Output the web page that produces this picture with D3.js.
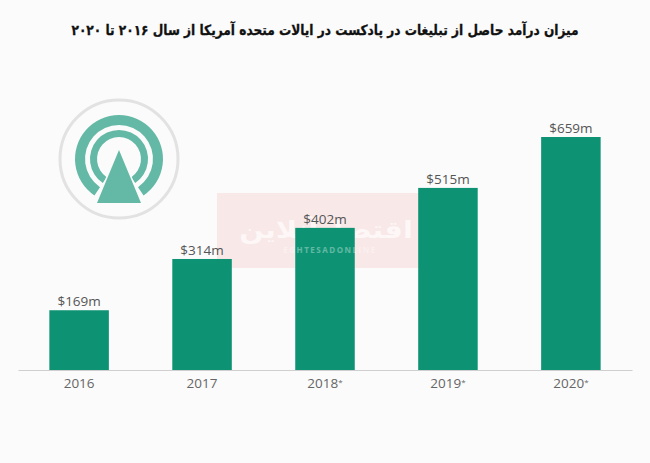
<!DOCTYPE html>
<html>
<head>
<meta charset="utf-8">
<script src="https://cdn.jsdelivr.net/npm/d3@7/dist/d3.min.js"></script>
<style>
  html, body { margin: 0; padding: 0; background: #fbfbfb; }
  svg { display: block; }
  text { font-family: "Open Sans", "Noto Sans", sans-serif; }
</style>
</head>
<body>
<svg id="chart"></svg>
<script>
const years = ['2016', '2017', '2018*', '2019*', '2020*'];
const revenue = [169, 314, 402, 515, 659];
const titleText = 'میزان درآمد حاصل از تبلیغات در پادکست در ایالات متحده آمریکا از سال ۲۰۱۶ تا ۲۰۲۰';
const watermarkFa = 'اقتصادآنلاین';
const watermarkEn = 'EGHTESADONLINE';

const width = 650;
const height = 463;
const baseline = 370;

const svg = d3.select('#chart').attr('width', width).attr('height', height);

svg.append('rect').attr('width', width).attr('height', height).attr('fill', '#fbfbfb');

// watermark sits behind the bars
const mark = svg.append('g');
mark.append('rect')
  .attr('x', 217).attr('y', 193)
  .attr('width', 217).attr('height', 75)
  .attr('fill', '#f9e8e8');
mark.append('text')
  .attr('transform', 'translate(326,238) scale(1.2,1)')
  .attr('text-anchor', 'middle')
  .attr('direction', 'rtl')
  .attr('font-size', 24)
  .attr('font-weight', 'bold')
  .style('font-family', '"DejaVu Sans"')
  .attr('fill', '#fdf7f7')
  .text(watermarkFa);

const x = d3.scaleBand()
  .domain(years)
  .range([18, 632])
  .paddingInner(0.516)
  .paddingOuter(0.255);

const y = d3.scaleLinear()
  .domain([0, 659])
  .range([baseline, 137]);

svg.append('g')
  .selectAll('rect')
  .data(revenue)
  .join('rect')
  .attr('x', (d, i) => x(years[i]))
  .attr('y', (d) => y(d))
  .attr('width', x.bandwidth())
  .attr('height', (d) => baseline - y(d))
  .attr('fill', '#0d9373');

// latin part of the watermark shows faintly through the bar
svg.append('text')
  .attr('x', 330).attr('y', 253)
  .attr('text-anchor', 'middle')
  .attr('font-size', 8)
  .attr('font-weight', 'bold')
  .attr('letter-spacing', 1.5)
  .attr('fill', '#fff')
  .attr('opacity', 0.35)
  .text(watermarkEn);

svg.append('g')
  .selectAll('text')
  .data(revenue)
  .join('text')
  .attr('x', (d, i) => x(years[i]) + x.bandwidth() / 2)
  .attr('y', (d) => y(d) - 4)
  .attr('text-anchor', 'middle')
  .attr('font-size', 13.5)
  .attr('fill', '#555')
  .text((d) => '$' + d + 'm');

const axis = svg.append('g')
  .attr('transform', `translate(0,${baseline})`)
  .call(d3.axisBottom(x).tickSize(0).tickPadding(8));
axis.select('.domain').attr('stroke', '#cfcfcf');
axis.selectAll('text')
  .attr('font-size', 13.5)
  .style('font-family', '"Open Sans", sans-serif')
  .attr('fill', '#666')
  .each(function (d) {
    // the star is a small raised mark in the original
    const label = d3.select(this);
    if (d.endsWith('*')) {
      label.text(d.slice(0, -1));
      label.append('tspan')
        .attr('font-size', 8)
        .attr('dy', -3)
        .text('*');
    }
  });

svg.append('text')
  .attr('transform', 'translate(325,35) scale(0.87,1)')
  .attr('text-anchor', 'middle')
  .attr('direction', 'rtl')
  .attr('font-size', 14)
  .attr('font-weight', 'bold')
  .style('font-family', '"DejaVu Sans"')
  .attr('fill', '#111')
  .attr('stroke', '#111')
  .attr('stroke-width', 0.3)
  .text(titleText);

// podcast icon
const icon = svg.append('g').attr('transform', 'translate(119,159)');
icon.append('circle')
  .attr('r', 59)
  .attr('fill', '#fbfbfb')
  .attr('stroke', '#e2e2e2')
  .attr('stroke-width', 3);
const ring = d3.arc()
  .startAngle((-146 * Math.PI) / 180)
  .endAngle((146 * Math.PI) / 180);
icon.append('path')
  .attr('d', ring({ innerRadius: 34, outerRadius: 44 }))
  .attr('fill', '#63b9a5');
icon.append('path')
  .attr('d', ring({ innerRadius: 22, outerRadius: 29 }))
  .attr('fill', '#63b9a5');
icon.append('path')
  .attr('d', 'M0,-9L22,44L-22,44Z')
  .attr('fill', '#63b9a5')
  .attr('stroke', '#fbfbfb')
  .attr('stroke-width', 3)
  .attr('paint-order', 'stroke');
</script>
</body>
</html>
